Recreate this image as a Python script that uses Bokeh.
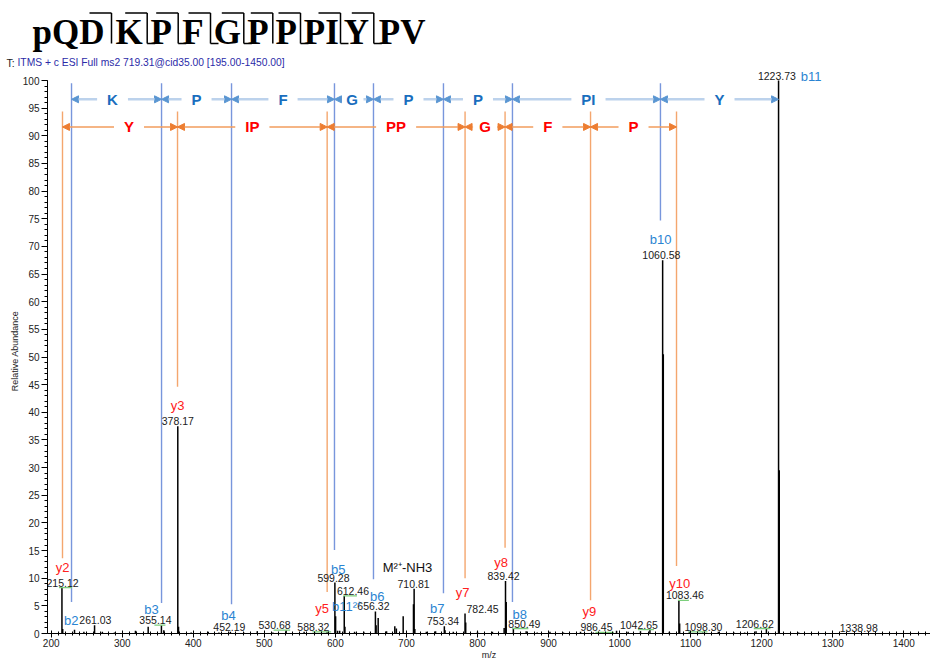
import math
from bokeh.plotting import figure
from bokeh.layouts import column
from bokeh.models import Range1d, SingleIntervalTicker, Arrow, NormalHead, ColumnDataSource
from bokeh.embed import file_html
from bokeh.resources import INLINE
from bokeh.core.properties import value

# ---------------- data ----------------
labeled_mz = [215.12, 261.03, 355.14, 378.17, 452.19, 530.68, 588.32, 599.28, 612.46, 656.32,
              710.81, 753.34, 782.45, 839.42, 850.49, 986.45, 1042.65, 1060.58, 1083.46, 1098.30,
              1206.62, 1223.73, 1338.98]
labeled_int = [8.3, 1.5, 1.5, 37.5, 0.3, 0.6, 0.3, 9.2, 6.8, 4.0,
               8.1, 1.3, 3.6, 9.5, 0.9, 0.2, 0.7, 67.5, 6.0, 0.3,
               0.9, 100.0, 0.1]

other_mz = [216.2, 232.8, 246.0, 272.0, 289.0, 318.6, 336.5, 358.5, 379.2, 397.0, 421.0, 436.0,
            471.0, 490.0, 512.0, 556.0, 571.0, 600.3, 603.0, 606.0, 613.4, 627.0, 640.0, 657.3,
            660.2, 672.0, 683.6, 685.8, 695.4, 709.9, 711.8, 728.0, 741.0, 754.3, 766.0, 783.4,
            800.0, 821.0, 837.5, 840.4, 868.5, 884.0, 902.0, 921.0, 945.0, 963.0, 995.7, 1012.0,
            1029.4, 1061.5, 1070.0, 1084.5, 1117.0, 1139.0, 1161.0, 1176.0, 1192.0, 1224.7,
            1252.0, 1300.0, 1362.0, 1398.0]
other_int = [0.8, 0.7, 0.3, 0.3, 0.2, 0.5, 1.2, 0.6, 1.2, 0.2, 0.3, 0.2,
             0.2, 0.4, 0.2, 0.3, 0.2, 3.1, 0.5, 0.5, 1.2, 0.3, 0.3, 1.5,
             2.8, 0.4, 1.3, 0.9, 3.1, 5.3, 0.8, 0.3, 0.4, 0.6, 0.3, 2.0,
             0.3, 0.3, 1.0, 5.7, 0.4, 0.2, 0.3, 0.2, 0.3, 0.2, 0.5, 0.3,
             0.4, 50.5, 0.3, 1.8, 0.2, 0.3, 0.2, 0.2, 0.4, 29.5,
             0.2, 0.1, 0.1, 0.1]

# fragment ion names and where they sit (m/z, relative abundance)
ion_names = ["y2", "b2", "b3", "y3", "b4", "y5", "b5", "b11\u00b2\u207a", "b6", "M\u00b2\u207a-NH3",
             "b7", "y7", "y8", "b8", "y9", "b10", "y10", "b11"]
ion_pos_mz = [215.9, 228.1, 341.2, 377.8, 449.5, 581.4, 603.9, 615.6, 658.8, 701.5,
              743.3, 778.9, 833.4, 859.5, 957.6, 1057.6, 1084.7, 1269.7]
ion_pos_lvl = [12.0, 2.4, 4.4, 41.3, 3.3, 4.6, 11.6, 4.8, 6.7, 11.9,
               4.6, 7.5, 12.9, 3.5, 3.9, 71.3, 9.1, 100.8]

# b-ion ladder (blue) and y-ion ladder (orange)
b_line_mz = [228.6, 355.3, 453.8, 598.7, 653.6, 752.1, 849.2, 1057.5]
b_line_low = [5.7, 5.5, 5.3, 15.1, 9.8, 7.3, 5.7, 74.7]
b_line_top = 99.5
b_gap_end = 1223.73
b_gap_names = ["K", "P", "F", "G", "P", "P", "PI", "Y"]
b_arrow_lvl = 96.6

y_line_mz = [215.9, 377.8, 588.4, 782.5, 838.8, 959.1, 1080.1]
y_line_low = [13.6, 44.6, 7.5, 10.0, 15.5, 6.0, 12.2]
y_line_top = 94.4
y_gap_names = ["Y", "IP", "PP", "G", "F", "P"]
y_arrow_lvl = 91.6

x_ticks_interval = 100
y_ticks_interval = 5

title_groups = ["pQD", "K", "P", "F", "G", "P", "P", "PI", "Y", "PV"]
title_b_break = [True] * 9
title_y_break = [False, True, True, True, True, False, True, True, True]
header_text = "ITMS + c ESI Full ms2 719.31@cid35.00 [195.00-1450.00]"

# ---------------- layout ----------------
W = 930
HT = 68                 # header strip height
HM = 662 - HT           # spectrum figure height
L, B = 47, 29
FW, FH = W - L, HM - B
SY = 5.53               # px per % abundance


def fx(px):   # picture x (px) -> m/z, only used to set the visible range
    return 200 + (px - 50.7) / 0.7105


X0, X1 = fx(L), fx(W)
SX = FW / (X1 - X0)
Y1 = FH / SY
FONT = "Liberation Sans"

# ---------- header figure (pixel coordinates) ----------
tf = figure(width=W, height=HT, x_range=Range1d(0, W), y_range=Range1d(HT, 0),
            output_backend="svg", toolbar_location=None,
            x_axis_location=None, y_axis_location=None, min_border=0)
tf.min_border_left = tf.min_border_right = tf.min_border_top = tf.min_border_bottom = 0
tf.frame_align = False
tf.outline_line_color = None
tf.background_fill_color = "white"
tf.border_fill_color = "white"
tf.xgrid.grid_line_color = None
tf.ygrid.grid_line_color = None

tx = [32, 115, 150, 181.7, 213.3, 246.7, 275, 303.3, 343.3, 378.3]
tf.text(x=tx, y=[32.3] * len(tx), text=title_groups, text_font=value("Liberation Serif"),
        text_font_style="bold", text_font_size="35px", text_color="black",
        text_align="left", text_baseline="middle")
seps = [111, 146.7, 177.7, 210, 243.3, 272.3, 300, 340, 373.3]
sx0, sy0, sx1, sy1 = [], [], [], []
for s, bb, yb in zip(seps, title_b_break, title_y_break):
    sx0.append(s); sy0.append(12.5); sx1.append(s); sy1.append(43)
    if bb:
        sx0.append(s - 22); sy0.append(12.5); sx1.append(s); sy1.append(12.5)
    if yb:
        sx0.append(s); sy0.append(43); sx1.append(s + 8); sy1.append(43)
tf.segment(x0=sx0, y0=sy0, x1=sx1, y1=sy1, line_color="black", line_width=1.5)
tf.text(x=[6], y=[62], text=["T:"], text_font=value(FONT), text_font_size="10.5px",
        text_color="#222222", text_align="left", text_baseline="middle")
tf.text(x=[17], y=[62], text=[header_text], text_font=value(FONT), text_font_size="10.3px",
        text_color="#2b2ba8", text_align="left", text_baseline="middle")

# ---------- spectrum figure ----------
p = figure(width=W, height=HM, x_range=Range1d(X0, X1), y_range=Range1d(0, Y1),
           output_backend="svg", toolbar_location=None,
           min_border_left=L, min_border_right=0, min_border_top=0, min_border_bottom=B)
p.frame_align = False
p.background_fill_color = "white"
p.border_fill_color = "white"
p.outline_line_color = None
p.xgrid.visible = False
p.ygrid.visible = False

for ax in (p.xaxis, p.yaxis):
    ax.axis_line_color = "black"
    ax.major_tick_line_color = "black"
    ax.minor_tick_line_color = "black"
    ax.major_label_text_font = FONT
    ax.major_label_text_font_size = "10px"
    ax.major_label_text_color = "#222222"
    ax.axis_label_text_font = FONT
    ax.axis_label_text_font_size = "9px"
    ax.axis_label_text_font_style = "normal"
    ax.axis_label_text_color = "#222222"
p.xaxis.axis_label = "m/z"
p.yaxis.axis_label = "Relative Abundance"
p.xaxis.ticker = SingleIntervalTicker(interval=x_ticks_interval, num_minor_ticks=10)
p.yaxis.ticker = SingleIntervalTicker(interval=y_ticks_interval, num_minor_ticks=5)
p.yaxis.bounds = (0, 100)
p.xaxis.major_tick_in = 3
p.xaxis.major_tick_out = 4
p.xaxis.minor_tick_in = 2
p.xaxis.minor_tick_out = 2
p.xaxis.major_label_standoff = 1
p.xaxis.axis_label_standoff = 0
p.yaxis.major_tick_in = 0
p.yaxis.major_tick_out = 6
p.yaxis.minor_tick_in = 0
p.yaxis.minor_tick_out = 3
p.yaxis.major_label_standoff = 2
p.yaxis.axis_label_standoff = 0

# ladder lines
BLUE_LINE = "#7896dc"
BLUE_ARROW = "#bcd2ec"
BLUE_HEAD = "#5a96d2"
BLUE_TEXT = "#196ebe"
OR_LINE = "#f4a66e"
OR_ARROW = "#f29c5c"
OR_HEAD = "#ed7d31"
RED_TEXT = "#ff0000"

p.segment(x0=b_line_mz, y0=b_line_low, x1=b_line_mz, y1=[b_line_top] * len(b_line_mz),
          line_color=BLUE_LINE, line_width=1.4)
p.segment(x0=y_line_mz, y0=y_line_low, x1=y_line_mz, y1=[y_line_top] * len(y_line_mz),
          line_color=OR_LINE, line_width=1.4)

BOLD_W = {"K": .722, "P": .667, "F": .611, "G": .778, "I": .278, "Y": .667}
FS_GAP = 15


def ladder(bounds, names, lvl, lcol, hcol, lw, tcol, dxs):
    xs, ys = [], []
    for i, nm in enumerate(names):
        xa, xb = bounds[i], bounds[i + 1]
        seg_px = (xb - xa) * SX
        xc = (xa + xb) / 2 + dxs[i] / SX
        w = sum(BOLD_W[c] for c in nm) * FS_GAP
        hg = max(min(w / 2 + 10, seg_px / 2 - 8), 2) / SX
        for s, e in ((xc - hg, xa), (xc + hg, xb)):
            p.add_layout(Arrow(end=NormalHead(size=7, fill_color=hcol, line_color=hcol, line_width=1),
                               x_start=s, y_start=lvl, x_end=e, y_end=lvl,
                               line_color=lcol, line_width=lw))
        xs.append(xc)
        ys.append(lvl)
    p.text(x=xs, y=ys, text=names, text_color=tcol, text_font=value(FONT),
           text_font_style="bold", text_font_size=f"{FS_GAP}px",
           text_align="center", text_baseline="middle")


ladder(b_line_mz + [b_gap_end], b_gap_names, b_arrow_lvl, BLUE_ARROW, BLUE_HEAD, 2.5, BLUE_TEXT,
       [-4, 0, 0, -2, 0, 0, 2, 0])
ladder(y_line_mz, y_gap_names, y_arrow_lvl, OR_ARROW, OR_HEAD, 1.4, RED_TEXT,
       [9, 0, 0, 0, 0, 0])

# spectrum sticks
all_mz = other_mz + labeled_mz
all_int = other_int + labeled_int
p.segment(x0=all_mz, y0=[0] * len(all_mz), x1=all_mz, y1=all_int, line_color="black", line_width=1.5)

# peak labels (pixel offsets are layout only)
lab_dx = [0.6, 0.8, -6, 0, -1, -11.6, -13.7, -1.4, 8.7, -2, -0.6, -1.3, 17.5, -2, 11, -13.5,
          -11, -1.3, 6, 14, -11.6, -1.7, -1.7]
leader = [True, False, True, False, False, True, True, False, True, False, False, False, False,
          False, True, True, True, False, True, True, True, False, False]
lx0, lx1, ly = [], [], []
for m, h, d, f in zip(labeled_mz, labeled_int, lab_dx, leader):
    if f:
        a, b = m, m + d / SX
        if abs(d) < 5:
            a, b = m - 2 / SX, m + 6 / SX
        lx0.append(min(a, b) - 1 / SX); lx1.append(max(a, b) + 4 / SX); ly.append(h)
p.segment(x0=lx0, y0=ly, x1=lx1, y1=ly, line_color="#7ccf7c", line_width=1.3)

src = ColumnDataSource(dict(x=labeled_mz, y=labeled_int, t=[f"{m:.2f}" for m in labeled_mz], dx=lab_dx))
p.text(x="x", y="y", text="t", x_offset="dx", y_offset=-5, source=src,
       text_font=value(FONT), text_font_size="10.5px", text_color="#1a1a1a",
       text_align="center", text_baseline="middle")

ion_col = []
for n in ion_names:
    ion_col.append("#2a84d2" if n.startswith("b") else ("#ff2020" if n.startswith("y") else "#111111"))
isrc = ColumnDataSource(dict(x=ion_pos_mz, y=ion_pos_lvl, t=ion_names, c=ion_col))
p.text(x="x", y="y", text="t", text_color="c", source=isrc, text_font=value(FONT),
       text_font_size="13px", text_align="center", text_baseline="middle")

layout = column(tf, p, spacing=0)
open("out.html", "w").write(file_html(layout, INLINE))
